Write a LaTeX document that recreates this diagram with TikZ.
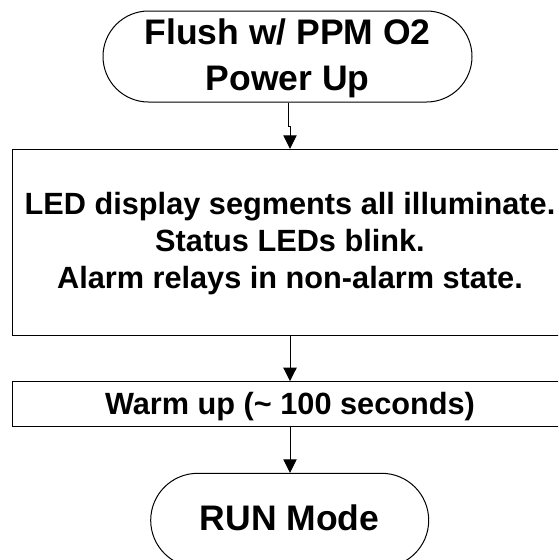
\documentclass[tikz,border=0pt]{standalone}
\usepackage{fontspec}
\setmainfont{Liberation Sans}
\usetikzlibrary{arrows.meta}
\begin{document}
\begin{tikzpicture}[x=1pt,y=-1pt,
  terminal/.style={draw=black, line width=1pt, rounded corners=#1, inner sep=0pt, align=center},
  procbox/.style={draw=black, line width=1pt, inner sep=0pt},
  bigtext/.style={font=\fontsize{35.5}{46}\selectfont\bfseries},
  smalltext/.style={font=\fontsize{30.7}{37}\selectfont\bfseries, align=center, inner sep=0pt},
  arr/.style={draw=black, line width=1pt, -{Triangle[width=13.3pt,length=13.5pt]}}]
\useasboundingbox (0,0) rectangle (558,560);
\clip (0,0) rectangle (558,560);
\fill[white] (0,0) rectangle (558,560);
% top terminal
\node[terminal=45.5pt, bigtext, text depth=2.9pt, minimum width=369pt, minimum height=91pt] (start) at (287.5,56.5)
  {Flush w/ PPM O2\\Power Up};
% LED box
\node[procbox, minimum width=562.3pt, minimum height=185.7pt] (led) at (293.85,242.15) {};
\node[smalltext] (ledtxt) at (290,243.5)
  {LED display segments all illuminate.\\Status LEDs blink.\\Alarm relays in non-alarm state.};
% warm-up box
\node[procbox, minimum width=562.3pt, minimum height=45pt] (warm) at (293.85,404.2) {};
\node[smalltext] (warmtxt) at (290,407) {Warm up (\textasciitilde{} 100 seconds)};
% run terminal
\node[terminal=47pt, bigtext, text depth=5pt, minimum width=278pt, minimum height=94pt] (run) at (289.7,520.3) {RUN Mode};
% connectors
\draw[arr] (start.south -| 288.7,0) -- ++(0,24) -| (led.north -| ledtxt.center);
\draw[arr] (led.south -| ledtxt.center) -- (warm.north -| ledtxt.center);
\draw[arr] (warm.south -| ledtxt.center) -- (run.north -| ledtxt.center);
\end{tikzpicture}
\end{document}
